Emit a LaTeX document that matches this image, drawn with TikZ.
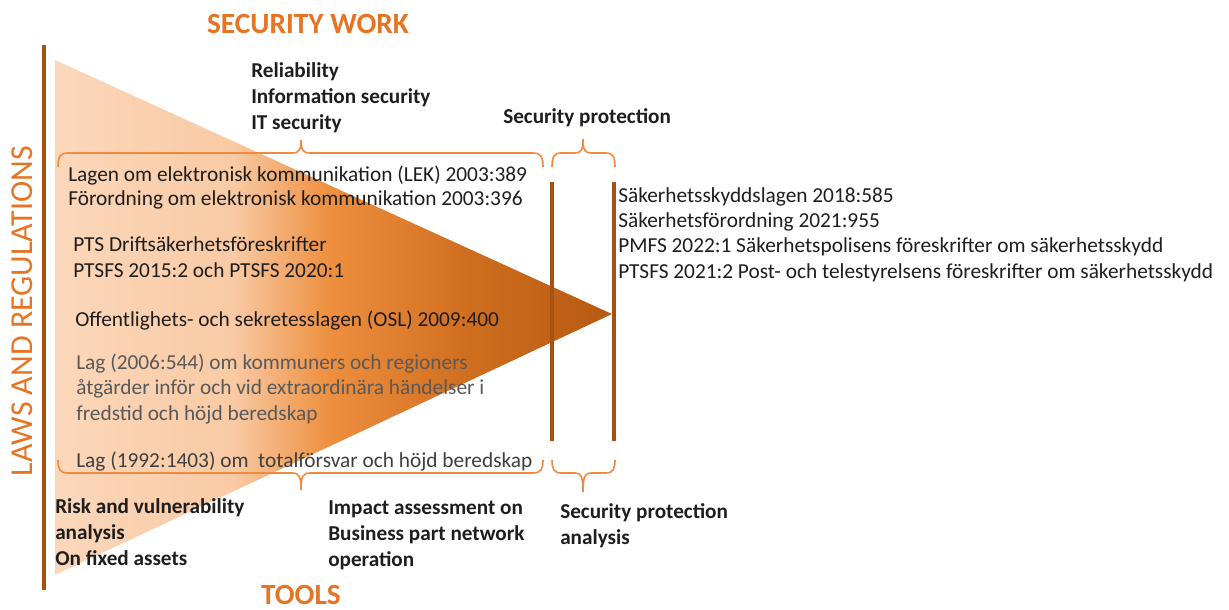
\documentclass[tikz,border=0pt]{standalone}
\usepackage{fontspec}
\setmainfont{Carlito}
\definecolor{titleor}{HTML}{E67423}
\definecolor{braceor}{HTML}{F08A40}
\definecolor{barbrown}{HTML}{A65214}
\definecolor{txt}{HTML}{1E1E1E}
\definecolor{greyA}{HTML}{595959}
\definecolor{greyB}{HTML}{3F3F3F}
\definecolor{c1}{HTML}{FBD7BA}
\definecolor{c2}{HTML}{F9CAA4}
\definecolor{c3}{HTML}{EE9040}
\definecolor{c4}{HTML}{CF6E1E}
\definecolor{c5}{HTML}{B75912}
\pgfdeclarehorizontalshading{trishade}{100bp}{color(0bp)=(c1); color(25bp)=(c1); color(41bp)=(c2); color(49.5bp)=(c3); color(62bp)=(c4); color(75bp)=(c5); color(100bp)=(c5)}
\begin{document}
\begin{tikzpicture}[x=0.75pt,y=-0.75pt,
  reg/.style={font=\fontsize{16}{19}\selectfont, text=txt, inner sep=0pt, anchor=base west, align=left},
  bld/.style={font=\fontsize{15.9}{19.5}\selectfont\bfseries, text=txt, inner sep=0pt, anchor=base west, align=left},
  ttl/.style={font=\fontsize{22}{26}\selectfont\bfseries, text=titleor, inner sep=0pt},
  bracestyle/.style={draw=braceor, line width=1.2pt},
  barstyle/.style={draw=barbrown, line width=2.4pt}]
\useasboundingbox (0,0) rectangle (1229,610);
% triangle
\shade[shading=trishade] (55,60) -- (612,314) -- (55,575) -- cycle;
% bars
\coordinate (l1) at (44,45); \coordinate (l2) at (44,590);
\draw[barstyle] (l1) -- (l2);
\coordinate (b1) at (552,182); \coordinate (b2) at (552,441);
\draw[barstyle] (b1) -- (b2);
\coordinate (b3) at (614,182); \coordinate (b4) at (614,441);
\draw[barstyle] (b3) -- (b4);
% top braces
\draw[bracestyle] (58,167) .. controls (58,157) and (60,153) .. (68,153) -- (292,153) .. controls (299,153) and (301,150) .. (301,140) .. controls (301,150) and (303,153) .. (310,153) -- (533,153) .. controls (541,153) and (543,157) .. (543,167);
\draw[bracestyle] (552,167) .. controls (552,157) and (554,153) .. (561,153) -- (575,153) .. controls (581,153) and (583,150) .. (583,139) .. controls (583,150) and (585,153) .. (591,153) -- (606,153) .. controls (613,153) and (615,157) .. (615,167);
% bottom braces
\draw[bracestyle] (58,460) .. controls (58,469) and (60,473) .. (68,473) -- (292,473) .. controls (299,473) and (301,476) .. (301,490) .. controls (301,476) and (303,473) .. (310,473) -- (533,473) .. controls (541,473) and (543,469) .. (543,460);
\draw[bracestyle] (552,460) .. controls (552,469) and (554,473) .. (561,473) -- (575,473) .. controls (581,473) and (583,476) .. (583,492) .. controls (583,476) and (585,473) .. (591,473) -- (606,473) .. controls (613,473) and (615,469) .. (615,460);
% titles
\node[ttl] (sw) at (308,24) {SECURITY WORK};
\node[ttl] (tools) at (301,595) {TOOLS};
\node[font=\fontsize{24}{28}\selectfont, text=titleor, inner sep=0pt, rotate=90] (laws) at (22,311) {LAWS AND REGULATIONS};
% bold labels
\node[bld] (rel) at (251,129) {Reliability\\Information security\\IT security};
\node[bld] (sp) at (503,123) {Security protection};
\node[bld] (risk) at (55,565) {Risk and vulnerability\\analysis\\On fixed assets};
\node[bld] (imp) at (328,566) {Impact assessment on\\Business part network\\operation};
\node[bld] (spa) at (560,544) {Security protection\\analysis};
% laws
\node[reg] (lek) at (68,181) {Lagen om elektronisk kommunikation (LEK) 2003:389};
\node[reg] (for) at (68,205) {Förordning om elektronisk kommunikation 2003:396};
\node[reg] (pts) at (73,277) {PTS Driftsäkerhetsföreskrifter\\PTSFS 2015:2 och PTSFS 2020:1};
\node[reg] (osl) at (75,326) {Offentlighets- och sekretesslagen (OSL) 2009:400};
\node[reg, text=greyA] (lag06) at (76,420) {Lag (2006:544) om kommuners och regioners\\åtgärder inför och vid extraordinära händelser i\\fredstid och höjd beredskap};
\node[reg, text=greyB] (lag92) at (76,467) {Lag (1992:1403) om\hspace{0.45em}totalförsvar och höjd beredskap};
\node[reg] (sak) at (618,278) {Säkerhetsskyddslagen 2018:585\\Säkerhetsförordning 2021:955\\PMFS 2022:1 Säkerhetspolisens föreskrifter om säkerhetsskydd\\PTSFS 2021:2 Post- och telestyrelsens föreskrifter om säkerhetsskydd};
\end{tikzpicture}
\end{document}
